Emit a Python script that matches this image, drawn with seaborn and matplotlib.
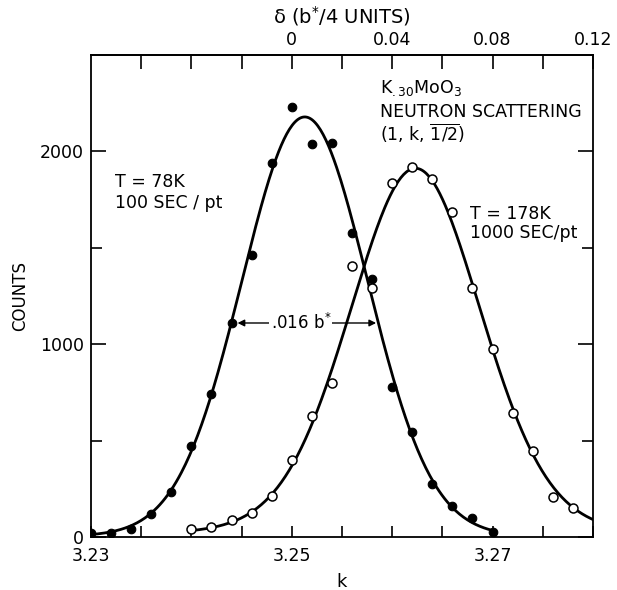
import numpy as np
import pandas as pd
import matplotlib
matplotlib.use("Agg")
import matplotlib.pyplot as plt
from matplotlib.ticker import FixedLocator, FixedFormatter
import seaborn as sns

# Scan along k through (1, k, 1/2) in K0.30MoO3
k_cold = [3.230, 3.232, 3.234, 3.236, 3.238, 3.240, 3.242, 3.244, 3.246, 3.248,
          3.250, 3.252, 3.254, 3.256, 3.258, 3.260, 3.262, 3.264, 3.266, 3.268, 3.270]
counts_cold = [22, 19, 40, 121, 236, 473, 744, 1110, 1464, 1938,
               2230, 2038, 2043, 1578, 1338, 780, 546, 274, 161, 99, 28]

k_warm = [3.240, 3.242, 3.244, 3.246, 3.248, 3.250, 3.252, 3.254, 3.256, 3.258,
          3.260, 3.262, 3.264, 3.266, 3.268, 3.270, 3.272, 3.274, 3.276, 3.278]
counts_warm = [43, 52, 88, 123, 213, 399, 626, 801, 1405, 1292,
               1835, 1918, 1856, 1684, 1289, 973, 644, 444, 208, 149]

x_ticks_bottom = [3.23, 3.25, 3.27]
x_tick_labels_bottom = ["3.23", "3.25", "3.27"]
delta_ticks = [0, 0.04, 0.08, 0.12]
delta_tick_labels = ["0", "0.04", "0.08", "0.12"]
y_ticks = [0, 1000, 2000]
y_tick_labels = ["0", "1000", "2000"]


def pseudo_voigt(p, x):
    amp, x0, hw, eta, bg = p
    u = (x - x0) / hw
    return amp * (eta / (1 + u**2) + (1 - eta) * np.exp(-np.log(2) * u**2)) + bg


def fit_peak(x, y):
    """Levenberg-Marquardt least squares fit of a pseudo-Voigt peak."""
    x = np.asarray(x, float)
    y = np.asarray(y, float)
    p = np.array([y.max(), x[np.argmax(y)], 0.007, 0.2, 10.0])
    lam = 1e-3

    def resid(q):
        return pseudo_voigt(q, x) - y

    r = resid(p)
    cost = r @ r
    for _ in range(400):
        J = np.empty((x.size, p.size))
        for j in range(p.size):
            dp = np.zeros_like(p)
            dp[j] = 1e-6 * max(abs(p[j]), 1e-3)
            J[:, j] = (resid(p + dp) - r) / dp[j]
        A = J.T @ J
        g = J.T @ r
        step = np.linalg.solve(A + lam * np.diag(np.diag(A)), -g)
        q = p + step
        q[3] = np.clip(q[3], 0.0, 1.0)
        q[2] = abs(q[2])
        rq = resid(q)
        cq = rq @ rq
        if cq < cost:
            p, r, cost = q, rq, cq
            lam *= 0.5
        else:
            lam *= 4.0
    return p


p_cold = fit_peak(k_cold, counts_cold)
p_warm = fit_peak(k_warm, counts_warm)

grid_cold = np.linspace(3.230, 3.2702, 300)
grid_warm = np.linspace(3.240, 3.280, 300)
curve_cold = pd.DataFrame({"k": grid_cold, "counts": pseudo_voigt(p_cold, grid_cold)})
curve_warm = pd.DataFrame({"k": grid_warm, "counts": pseudo_voigt(p_warm, grid_warm)})
pts_cold = pd.DataFrame({"k": k_cold, "counts": counts_cold})
pts_warm = pd.DataFrame({"k": k_warm, "counts": counts_warm})

sns.set_style("ticks")
plt.rcParams["font.family"] = ["DejaVu Sans"]
plt.rcParams["mathtext.default"] = "regular"
for key in ["text.color", "axes.labelcolor", "xtick.color", "ytick.color", "axes.edgecolor"]:
    plt.rcParams[key] = "black"

fig = plt.figure(figsize=(6.17, 5.90), dpi=100)
ax = fig.add_axes([0.1475, 0.0898, 0.8135, 0.817])

sns.lineplot(data=curve_cold, x="k", y="counts", ax=ax, color="black", lw=2.0, zorder=2)
sns.lineplot(data=curve_warm, x="k", y="counts", ax=ax, color="black", lw=2.0, zorder=2)
sns.scatterplot(data=pts_cold, x="k", y="counts", ax=ax, color="black", s=38,
                edgecolor="black", linewidth=0.8, zorder=3)
sns.scatterplot(data=pts_warm, x="k", y="counts", ax=ax, facecolor="white", s=42,
                edgecolor="black", linewidth=1.1, zorder=3)

ax.set_xlim(3.23, 3.28)
ax.set_ylim(0, 2500)

for side in ["top", "right", "left", "bottom"]:
    ax.spines[side].set_linewidth(1.3)

ax.xaxis.set_major_locator(FixedLocator(x_ticks_bottom))
ax.xaxis.set_major_formatter(FixedFormatter(x_tick_labels_bottom))
ax.xaxis.set_minor_locator(FixedLocator(np.arange(3.235, 3.2801, 0.005)))
ax.yaxis.set_major_locator(FixedLocator(y_ticks))
ax.yaxis.set_major_formatter(FixedFormatter(y_tick_labels))
ax.yaxis.set_minor_locator(FixedLocator([500, 1500]))
ax.tick_params(axis="x", which="both", direction="in", length=8, width=1.2,
               labelsize=12.5, pad=7, top=False)
ax.tick_params(axis="y", which="major", direction="in", length=11, width=1.2,
               labelsize=12.5, pad=5, right=True)
ax.tick_params(axis="y", which="minor", direction="in", length=8, width=1.2, right=True)

ax.set_xlabel("k", fontsize=13, labelpad=6)
ax.set_ylabel("COUNTS", fontsize=12, labelpad=8)

# Upper scale: delta in units of b*/4, zero at k = 3.25
sec = ax.secondary_xaxis("top", functions=(lambda k: (k - 3.25) * 4, lambda d: d / 4 + 3.25))
sec.xaxis.set_major_locator(FixedLocator(delta_ticks))
sec.xaxis.set_major_formatter(FixedFormatter(delta_tick_labels))
sec.xaxis.set_minor_locator(FixedLocator([-0.06, -0.04, -0.02, 0.02, 0.06, 0.10]))
sec.tick_params(which="both", direction="in", length=10, width=1.2, labelsize=12.5, pad=4)
sec.spines["top"].set_linewidth(1.3)
sec.set_xlabel("δ (b$^{*}$/4 UNITS)", fontsize=14, labelpad=6)

# Full width at half maximum of the low-temperature peak
y_half = 1110
ax.annotate("", xy=(3.2446, y_half), xytext=(3.2512, y_half),
            arrowprops=dict(arrowstyle="-|>", color="black", lw=1.0,
                            mutation_scale=10, shrinkA=0, shrinkB=0), zorder=4)
ax.annotate("", xy=(3.2584, y_half), xytext=(3.2512, y_half),
            arrowprops=dict(arrowstyle="-|>", color="black", lw=1.0,
                            mutation_scale=10, shrinkA=0, shrinkB=0), zorder=4)
ax.text(3.2509, y_half, ".016 b$^{*}$", fontsize=12, ha="center", va="center",
        bbox=dict(facecolor="white", edgecolor="none", pad=1.0), zorder=5)

ax.text(3.2588, 2329, "K$_{.30}$MoO$_3$", fontsize=12.5, ha="left", va="center")
ax.text(3.2588, 2204, "NEUTRON SCATTERING", fontsize=12.5, ha="left", va="center")
ax.text(3.2588, 2095, r"(1, k, $\overline{1/2}$)", fontsize=12.5, ha="left", va="center")

ax.text(3.2324, 1841, "T = 78K", fontsize=12.5, ha="left", va="center")
ax.text(3.2324, 1732, "100 SEC / pt", fontsize=12.5, ha="left", va="center")

ax.text(3.2678, 1675, "T = 178K", fontsize=12.5, ha="left", va="center")
ax.text(3.2678, 1577, "1000 SEC/pt", fontsize=12.5, ha="left", va="center")

fig.savefig("out.png", dpi=100)
